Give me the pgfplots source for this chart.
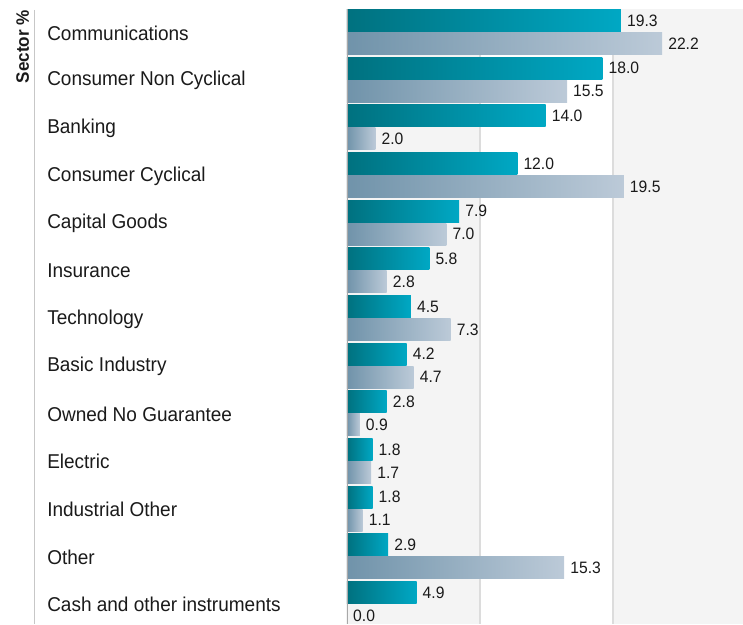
\documentclass[border=0pt]{standalone}
\usepackage{fontspec}
\setmainfont{Liberation Sans}[FakeStretch=0.95]
\usepackage{pgfplots}
\pgfplotsset{compat=1.18}
\definecolor{tealA}{HTML}{00717F}
\definecolor{tealB}{HTML}{00A8C4}
\definecolor{grayA}{HTML}{7093AA}
\definecolor{grayB}{HTML}{BCCAD8}
\definecolor{bandgray}{HTML}{F4F4F4}
\definecolor{gridgray}{HTML}{DCDCDC}
\definecolor{zerogray}{HTML}{A8A8A8}
\definecolor{txt}{HTML}{1A1A1A}
\pgfplotsset{
  tealbar/.style={draw=none, left color=tealA, right color=tealB, bar shift=11.5pt},
  graybar/.style={draw=none, left color=grayA, right color=grayB, bar shift=-11.5pt},
}
% one group: row index, first series value, second series value
\newcommand\group[3]{%
  \addplot[tealbar] coordinates {(#2,#1)};
  \addplot[graybar] coordinates {(#3,#1)};
}
\begin{document}
\begin{tikzpicture}
\begin{axis}[
  scale only axis, width=396pt, height=614.8pt,
  xbar, xmin=0, xmax=27.9, ymin=-0.48, ymax=12.42, y dir=reverse,
  axis line style={draw=none}, tick style={draw=none},
  xtick=\empty,
  ytick={0,...,12},
  yticklabels={Communications,Consumer Non Cyclical,Banking,Consumer Cyclical,Capital Goods,Insurance,Technology,Basic Industry,Owned No Guarantee,Electric,Industrial Other,Other,Cash and other instruments},
  yticklabel style={anchor=west, xshift=-299pt, yshift=-0.8pt, font=\fontsize{20}{22}\selectfont, text=txt},
  bar width=22pt,
  nodes near coords={\pgfmathprintnumber[fixed,fixed zerofill,precision=1]{\pgfplotspointmeta}},
  nodes near coords style={anchor=west, inner xsep=6pt, font=\fontsize{16.5}{18}\selectfont, text=txt, /pgf/number format/assume math mode=true},
]
\fill[bandgray] (0,-0.48) rectangle (9.366,12.42);
\fill[bandgray] (18.73,-0.48) rectangle (27.9,12.42);
\draw[gridgray, line width=2pt] (9.366,-0.48) -- (9.366,12.42);
\draw[gridgray, line width=2pt] (18.73,-0.48) -- (18.73,12.42);
\group{0}{19.3}{22.2}
\group{1}{18.0}{15.5}
\group{2}{14.0}{2.0}
\group{3}{12.0}{19.5}
\group{4}{7.9}{7.0}
\group{5}{5.8}{2.8}
\group{6}{4.5}{7.3}
\group{7}{4.2}{4.7}
\group{8}{2.8}{0.9}
\group{9}{1.8}{1.7}
\group{10}{1.8}{1.1}
\group{11}{2.9}{15.3}
\group{12}{4.9}{0.0}
\draw[zerogray, line width=2pt] (0,-0.48) -- (0,12.42);
\end{axis}
\node[rotate=90, anchor=base east, inner sep=0pt, font=\bfseries\fontsize{18}{20}\selectfont, text=txt] at ([xshift=-318pt, yshift=-0.8pt]current axis.north west) {Sector \%};
\draw[black!22, line width=1pt] ([xshift=-312pt, yshift=-0.8pt]current axis.north west) -- ([xshift=-312pt]current axis.south west);
\pgfresetboundingbox
\path ([xshift=-347pt]current axis.south west) rectangle ([yshift=9.2pt]current axis.north east);
\end{tikzpicture}
\end{document}
